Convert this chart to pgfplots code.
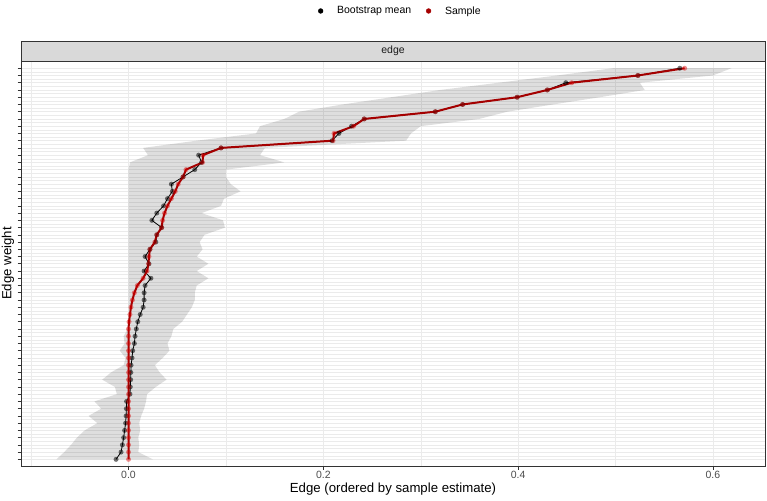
\documentclass[border=0pt]{standalone}
\usepackage{pgfplots}
\pgfplotsset{compat=1.18}
\usepackage{pgfplotstable}
\usepackage{fontspec}
\setmainfont{Liberation Sans}

\definecolor{sampred}{RGB}{165,0,0}
\definecolor{gridgray}{RGB}{235,235,235}
\definecolor{bordergray}{RGB}{51,51,51}
\definecolor{stripgray}{RGB}{217,217,217}
\definecolor{ticklab}{RGB}{77,77,77}
\definecolor{striptext}{RGB}{26,26,26}

% edges ordered by sample estimate (y = 55 is the strongest edge)
\pgfplotstableread{
y mean sample
55 0.566 0.571
54 0.523 0.523
53 0.449 0.455
52 0.430 0.430
51 0.399 0.399
50 0.343 0.343
49 0.315 0.315
48 0.242 0.242
47 0.229 0.231
46 0.216 0.211
45 0.209 0.210
44 0.095 0.095
43 0.072 0.0765
42 0.075 0.076
41 0.068 0.059
40 0.056 0.056
39 0.044 0.051
38 0.045 0.048
37 0.040 0.044
36 0.036 0.040
35 0.029 0.037
34 0.024 0.035
33 0.034 0.034
32 0.029 0.029
31 0.028 0.027
30 0.022 0.022
29 0.017 0.021
28 0.021 0.0205
27 0.016 0.019
26 0.023 0.015
25 0.017 0.009
24 0.016 0.006
23 0.016 0.004
22 0.015 0.0025
21 0.012 0.0015
20 0.0095 0.0005
19 0.008 0
18 0.0067 0
17 0.006 0
16 0.0043 0
15 0.0036 0
14 0.0026 0
13 0.0024 0
12 0.0022 0
11 0.0018 0
10 0.0015 0
9 -0.002 0
8 -0.0022 0
7 -0.0025 0
6 -0.003 0
5 -0.004 0
4 -0.005 0
3 -0.0063 0
2 -0.0077 0
1 -0.0128 0
}\edges

% bootstrap interval outline: lower bounds top to bottom, then upper bounds bottom to top
\pgfplotstableread{
x y
0.497 55
0.440 54
0.380 53
0.320 52
0.270 51
0.220 50
0.175 49
0.160 48
0.135 47
0.131 46
0.070 45
0.015 44
0.020 43
0.0015 42
0.000 41
0.000 40
0.000 39
0.000 38
0.000 37
0.000 36
0.000 35
0.000 34
0.000 33
0.000 32
0.000 31
0.000 30
0.000 29
0.000 28
0.000 27
0.000 26
0.000 25
0.000 24
0.000 23
0.000 22
0.000 21
0.000 20
-0.001 19
-0.005 18
-0.004 17
-0.009 16
-0.003 15
-0.005 14
-0.018 13
-0.027 12
-0.014 11
-0.012 10
-0.035 9
-0.028 8
-0.041 7
-0.032 6
-0.045 5
-0.053 4
-0.059 3
-0.066 2
-0.074 1
0.025 1
0.010 2
0.011 3
0.010 4
0.012 5
0.011 6
0.013 7
0.016 8
0.018 9
0.019 10
0.028 11
0.039 12
0.032 13
0.027 14
0.035 15
0.042 16
0.040 17
0.044 18
0.046 19
0.055 20
0.060 21
0.065 22
0.068 23
0.068 24
0.070 25
0.082 26
0.070 27
0.082 28
0.070 29
0.076 30
0.073 31
0.078 32
0.099 33
0.097 34
0.075 35
0.095 36
0.098 37
0.115 38
0.105 39
0.100 40
0.100 41
0.160 42
0.135 43
0.140 44
0.285 45
0.290 46
0.300 47
0.360 48
0.389 49
0.436 50
0.484 51
0.530 52
0.525 53
0.600 54
0.619 55
}\band

\begin{document}
\begin{tikzpicture}
\useasboundingbox (-21pt,-34pt) rectangle (746pt,466pt);
\begin{axis}[
  name=ax,
  at={(0pt,0pt)}, anchor=south west,
  scale only axis, width=744pt, height=405pt,
  xmin=-0.1104, xmax=0.6535, ymin=0.08, ymax=56,
  xtick={0,0.2,0.4,0.6}, minor xtick={-0.1,0.1,0.3,0.5},
  ytick={1,...,55}, yticklabel=\empty, minor ytick={1.5,2.5,...,54.5},
  xtick pos=bottom, ytick pos=left,
  tick align=outside, major tick length=3.5pt, minor tick length=0pt,
  grid=both,
  major grid style={gridgray, line width=0.6pt},
  minor grid style={gridgray, line width=0.35pt},
  axis line style={bordergray, line width=0.6pt},
  tick style={bordergray, line width=0.6pt},
  /pgf/number format/assume math mode=true,
  xticklabel style={font=\fontsize{10.5}{12}\selectfont, text=ticklab, yshift=2pt,
    /pgf/number format/.cd, fixed, fixed zerofill, precision=1},
  xlabel={Edge (ordered by sample estimate)},
  ylabel={Edge weight},
  label style={font=\fontsize{13.2}{15}\selectfont},
  xlabel style={at={(axis description cs:0.5,0)}, anchor=center, yshift=-23pt},
  ylabel style={at={(axis description cs:0,0.5)}, anchor=center, yshift=13pt},
  legend style={at={(axis description cs:0.51,1.1235)}, anchor=center,
    draw=none, fill=none, font=\fontsize{10.5}{12}\selectfont,
    legend columns=2,
    /tikz/every odd column/.append style={column sep=12pt},
    /tikz/every even column/.append style={column sep=13pt}},
  legend cell align=left,
]
% bootstrap interval
\addplot[fill=black, fill opacity=0.13, draw=none, forget plot] table[x=x, y=y]{\band} -- cycle;

% bootstrap mean and sample estimate
\addplot[black, line width=0.8pt, forget plot] table[x=mean, y=y]{\edges};
\addplot[sampred, line width=2pt, forget plot] table[x=sample, y=y]{\edges};
\addplot[only marks, mark=*, mark size=2.5pt,
  mark options={solid, fill=black, draw opacity=0, fill opacity=0.55}, forget plot]
  table[x=mean, y=y]{\edges};
\addplot[only marks, mark=*, mark size=2.5pt,
  mark options={solid, fill=red!85!black, draw opacity=0, fill opacity=0.45}, forget plot]
  table[x=sample, y=y]{\edges};

\addlegendimage{only marks, mark=*, mark size=2.4pt, black}
\addlegendentry{Bootstrap mean}
\addlegendimage{only marks, mark=*, mark size=2.4pt, sampred}
\addlegendentry{Sample}
\end{axis}
% facet strip
\draw[fill=stripgray, draw=bordergray, line width=0.6pt] (ax.north west) rectangle ([yshift=20pt]ax.north east);
\node[font=\fontsize{10.5}{12}\selectfont, text=striptext] at ([yshift=10pt]ax.north) {edge};
\end{tikzpicture}
\end{document}
